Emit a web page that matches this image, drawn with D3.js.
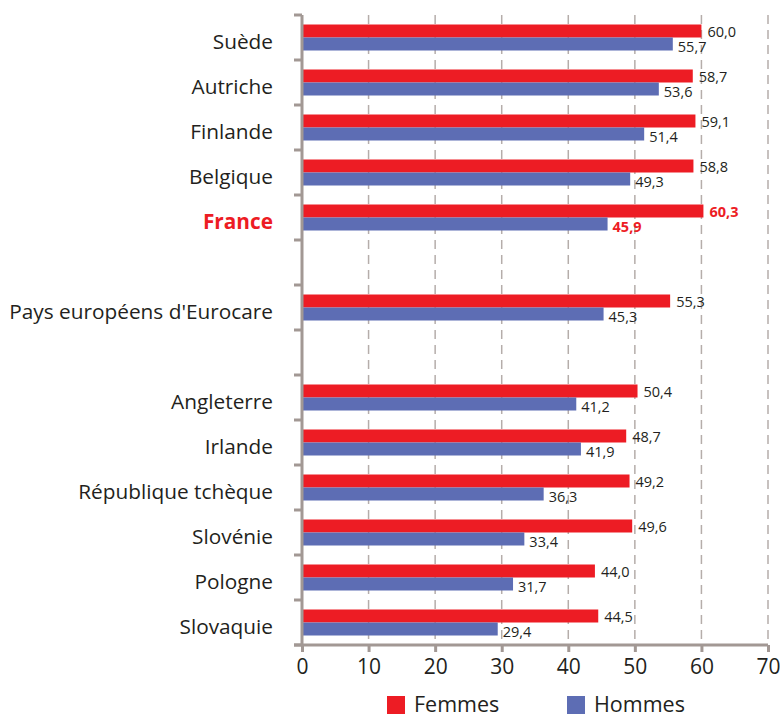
<!DOCTYPE html>
<html>
<head>
<meta charset="utf-8">
<script src="https://cdn.jsdelivr.net/npm/d3@7"></script>
<style>
body{margin:0;background:#fff;}
svg{display:block;font-family:"Open Sans","Noto Sans",sans-serif;}
</style>
</head>
<body>
<svg id="chart" width="780" height="718"></svg>
<script>
const categories = ["Suède","Autriche","Finlande","Belgique","France","","Pays européens d'Eurocare","","Angleterre","Irlande","République tchèque","Slovénie","Pologne","Slovaquie"];
const femmes = [60.0,58.7,59.1,58.8,60.3,null,55.3,null,50.4,48.7,49.2,49.6,44.0,44.5];
const hommes = [55.7,53.6,51.4,49.3,45.9,null,45.3,null,41.2,41.9,36.3,33.4,31.7,29.4];
const xTicks = [0,10,20,30,40,50,60,70];
const seriesNames = ["Femmes","Hommes"];
const highlight = "France";

const RED = "#ed1c24", BLUE = "#5d6db4", AXIS = "#a29894", GRID = "#b5adaa", TXT = "#231f20";
const svg = d3.select("#chart");
const m = {left:302, right:768, top:15, bottom:645};

const x = d3.scaleLinear().domain([0,70]).range([m.left, m.right]);
const idx = categories.map((d,i)=>i);
const y = d3.scaleBand().domain(idx).range([m.top, m.bottom]);
const barH = 13;
const pad = (y.bandwidth() - 2*barH)/2;

// grid
svg.append("g").selectAll("line").data(xTicks.slice(1)).join("line")
  .attr("x1", d=>x(d)).attr("x2", d=>x(d))
  .attr("y1", m.top).attr("y2", m.bottom)
  .attr("stroke", GRID).attr("stroke-width",1.5).attr("stroke-dasharray","9,6");

// bars
const rows = idx.filter(i => femmes[i] !== null);
const g = svg.append("g");
g.selectAll("rect.f").data(rows).join("rect").attr("class","f")
  .attr("x", x(0)).attr("y", i=>y(i)+pad)
  .attr("width", i=>x(femmes[i])-x(0)).attr("height", barH).attr("fill", RED);
g.selectAll("rect.h").data(rows).join("rect").attr("class","h")
  .attr("x", x(0)).attr("y", i=>y(i)+pad+barH)
  .attr("width", i=>x(hommes[i])-x(0)).attr("height", barH).attr("fill", BLUE);

const fmt = v => v.toFixed(1).replace(".", ",");
g.selectAll("text.fl").data(rows).join("text").attr("class","fl")
  .attr("x", i=>x(femmes[i])+6).attr("y", i=>y(i)+pad+barH-1)
  .attr("font-size", 14.5)
  .attr("font-weight", i=>categories[i]===highlight?"bold":"normal")
  .attr("fill", i=>categories[i]===highlight?RED:TXT)
  .text(i=>fmt(femmes[i]));
g.selectAll("text.hl").data(rows).join("text").attr("class","hl")
  .attr("x", i=>x(hommes[i])+5).attr("y", i=>y(i)+pad+2*barH+1)
  .attr("font-size", 14.5)
  .attr("font-weight", i=>categories[i]===highlight?"bold":"normal")
  .attr("fill", i=>categories[i]===highlight?RED:TXT)
  .text(i=>fmt(hommes[i]));

// y axis
const yAxisG = svg.append("g");
yAxisG.append("line").attr("x1", m.left).attr("x2", m.left).attr("y1", m.top).attr("y2", m.bottom)
  .attr("stroke", AXIS).attr("stroke-width", 3);
const bounds = idx.map(i=>y(i)).concat([m.bottom]);
yAxisG.selectAll("line.t").data(bounds).join("line").attr("class","t")
  .attr("x1", m.left-8).attr("x2", m.left).attr("y1", d=>d).attr("y2", d=>d)
  .attr("stroke", AXIS).attr("stroke-width", 3);
yAxisG.selectAll("text").data(idx.filter(i=>categories[i]!=="")).join("text")
  .attr("x", 273).attr("y", i=>y(i)+y.bandwidth()/2+4)
  .attr("dy","0.35em")
  .attr("text-anchor","end").attr("font-size", 20.8)
  .attr("font-weight", i=>categories[i]===highlight?"bold":"normal")
  .attr("fill", i=>categories[i]===highlight?RED:TXT)
  .text(i=>categories[i]);

// x axis
const xAxis = d3.axisBottom(x).tickValues(xTicks).tickSize(7).tickFormat(d=>d);
const xg = svg.append("g").attr("transform", `translate(0,${m.bottom})`).call(xAxis);
xg.select(".domain").attr("stroke", AXIS).attr("stroke-width",3).attr("d", `M${m.left-8},0H${m.right}`);
xg.selectAll(".tick line").attr("stroke", AXIS).attr("stroke-width",3);
xg.selectAll(".tick text").attr("font-size", 21).attr("fill", TXT).attr("font-family","\"Open Sans\",sans-serif").attr("dy","0.9em");

// legend
const colors = [RED, BLUE];
const lx = [387, 567];
const lg = svg.append("g");
seriesNames.forEach((s,k)=>{
  lg.append("rect").attr("x", lx[k]).attr("y", 696).attr("width", 18).attr("height", 18).attr("fill", colors[k]);
  lg.append("text").attr("x", lx[k]+27).attr("y", 712).attr("font-size", 21.5).attr("fill", TXT).text(s);
});
</script>
</body>
</html>
